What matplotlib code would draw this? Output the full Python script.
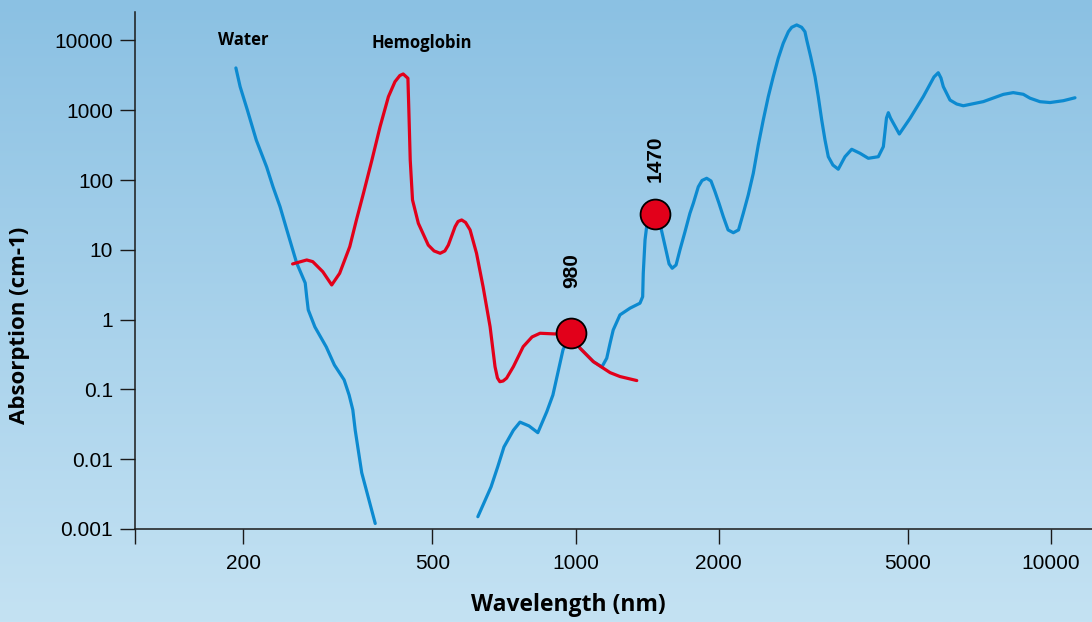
import numpy as np
import matplotlib
matplotlib.use('Agg')
import matplotlib.pyplot as plt
from matplotlib.colors import LinearSegmentedColormap
from matplotlib.ticker import NullLocator

# water absorption, UV side (wavelength nm, absorption cm-1)
water_uv_nm = [193, 197, 204, 213, 224, 231, 239, 247, 259, 270, 272, 274, 283, 299,
               311, 326, 334, 340, 344, 355, 379]
water_uv_abs = [4040, 2180, 1010, 375, 154, 80, 41.6, 19.3, 6.5, 3.35, 2.1, 1.38, 0.785,
                0.406, 0.224, 0.137, 0.083, 0.051, 0.026, 0.0064, 0.0012]

# water absorption, visible / IR side
water_ir_nm = [623, 664, 686, 707, 740, 764, 798, 833, 870, 896, 941, 980, 1022, 1090,
               1136, 1163, 1182, 1200, 1240, 1302, 1366, 1384, 1388, 1400, 1411, 1470,
               1510, 1555, 1573, 1597, 1627, 1658, 1699, 1740, 1769, 1812, 1845, 1887,
               1927, 1965, 2003, 2045, 2093, 2147, 2202, 2253, 2308, 2365, 2423, 2482,
               2543, 2605, 2669, 2734, 2803, 2849, 2918, 2989, 3037, 3063, 3123, 3189,
               3240, 3294, 3347, 3401, 3478, 3569, 3687, 3809, 3965, 4128, 4333, 4440,
               4508, 4549, 4596, 4797, 5053, 5388, 5674, 5793, 5869, 5936, 6132, 6333,
               6539, 7206, 7941, 8329, 8745, 9033, 9482, 9952, 10614, 11232]
water_ir_abs = [0.0015, 0.0040, 0.0078, 0.015, 0.026, 0.034, 0.030, 0.024, 0.048,
                0.083, 0.37, 0.64, 0.39, 0.25, 0.21, 0.28, 0.46, 0.71, 1.17, 1.46, 1.72,
                2.13, 4.6, 13.9, 21.5, 32.7, 21.5, 8.9, 6.28, 5.45, 6.07, 10.0, 18.2,
                33.4, 46.5, 80, 98.6, 106, 97, 68, 46.5, 30, 19.3, 17.6, 19.3, 33.4,
                61.1, 125, 318, 726, 1566, 3030, 5560, 9120, 13360, 15450, 16700, 15450,
                13360, 10200, 5860, 3030, 1566, 726, 375, 216, 164, 143, 216, 276, 242,
                205, 216, 301, 775, 923, 775, 457, 767, 1570, 3000, 3450, 2900, 2180,
                1400, 1230, 1160, 1330, 1690, 1790, 1694, 1490, 1327, 1290, 1371, 1510]

# hemoglobin absorption
hb_nm = [254, 272, 280, 294, 307, 319, 335, 346, 358, 373, 388, 404, 417, 427, 434,
         444, 446, 449, 454, 467, 490, 504, 519, 531, 540, 558, 566, 576, 587, 600,
         619, 639, 661, 677, 685, 693, 704, 716, 740, 776, 810, 842, 905, 980, 1022,
         1090, 1182, 1240, 1345]
hb_abs = [6.28, 7.16, 6.78, 4.86, 3.14, 4.61, 11.1, 26.8, 64.7, 194, 582, 1566, 2565,
          3148, 3311, 2871, 1009, 194, 51.9, 24.0, 11.7, 9.64, 8.93, 9.64, 11.7, 21.5,
          25.5, 26.8, 24.7, 19.3, 8.93, 2.96, 0.793, 0.212, 0.146, 0.129, 0.132, 0.145,
          0.212, 0.410, 0.565, 0.638, 0.624, 0.644, 0.389, 0.250, 0.174, 0.153, 0.134]

# laser wavelengths marked on the chart
laser_nm = [980, 1470]
laser_abs = [0.644, 32.7]
laser_labels = ['980', '1470']

x_ticks = [200, 500, 1000, 2000, 5000, 10000]
y_ticks = [0.001, 0.01, 0.1, 1, 10, 100, 1000, 10000]
y_tick_labels = ['0.001', '0.01', '0.1', '1', '10', '100', '1000', '10000']

BLUE = '#0c8ad0'
RED = '#e2001a'
INK = '#1a1a1a'
TICK_FONT = 'Liberation Sans'
BOLD_FONT = 'Open Sans'

fig = plt.figure(figsize=(10.92, 6.22), dpi=100)

# background gradient
bg = fig.add_axes([0, 0, 1, 1], zorder=-10)
grad = np.linspace(0, 1, 256).reshape(-1, 1)
cmap = LinearSegmentedColormap.from_list('bg', ['#8bc1e3', '#c4e2f3'])
bg.imshow(grad, aspect='auto', cmap=cmap, extent=[0, 1, 0, 1], origin='upper')
bg.axis('off')

ax = fig.add_axes([135 / 1092, 93 / 622, 957 / 1092, 517 / 622])
ax.patch.set_alpha(0)
ax.set_xscale('log')
ax.set_yscale('log')
x_left, x_right = 118.4, 12197
ax.set_xlim(x_left, x_right)
ax.set_ylim(0.001, 25590)

line_kw = dict(lw=2.3, solid_joinstyle='round', solid_capstyle='round')
ax.plot(water_uv_nm, water_uv_abs, color=BLUE, zorder=2, **line_kw)
ax.plot(water_ir_nm, water_ir_abs, color=BLUE, zorder=2, **line_kw)
ax.plot(hb_nm, hb_abs, color=RED, zorder=3, **line_kw)
ax.plot(laser_nm, laser_abs, 'o', ms=21.5, mfc=RED, mec='black', mew=1.3,
        ls='none', zorder=4)

for nm, a, lab, off in zip(laser_nm, laser_abs, laser_labels, [45, 40]):
    ax.annotate(lab, (nm, a), xytext=(0, off), textcoords='offset points',
                rotation=90, ha='center', va='center', fontsize=15,
                fontweight='bold', family=TICK_FONT, color='black')

ax.text(200, 10160, 'Water', ha='center', va='center', fontsize=12,
        fontweight='bold', family=BOLD_FONT)
ax.text(475, 9200, 'Hemoglobin', ha='center', va='center', fontsize=12,
        fontweight='bold', family=BOLD_FONT)

# ticks
ax.xaxis.set_minor_locator(NullLocator())
ax.yaxis.set_minor_locator(NullLocator())
ax.set_xticks([x_left] + x_ticks)
ax.set_xticklabels([''] + [str(t) for t in x_ticks])
ax.set_yticks(y_ticks)
ax.set_yticklabels(y_tick_labels)
ax.tick_params(axis='both', direction='out', length=10.8, width=1.0, color=INK,
               labelsize=15, labelcolor='black')
ax.tick_params(axis='x', pad=7)
ax.tick_params(axis='y', pad=5)
for lab in ax.get_xticklabels() + ax.get_yticklabels():
    lab.set_family(TICK_FONT)

for side in ['top', 'right']:
    ax.spines[side].set_visible(False)
for side in ['left', 'bottom']:
    ax.spines[side].set_linewidth(1.1)
    ax.spines[side].set_color(INK)

fig.text(568 / 1092, 1 - 605 / 622, 'Wavelength (nm)', ha='center', va='center',
         fontsize=16.5, fontweight='bold', family=BOLD_FONT)
fig.text(20 / 1092, 1 - 325 / 622, 'Absorption (cm-1)', ha='center', va='center',
         rotation=90, fontsize=16, fontweight='bold', family=BOLD_FONT)

fig.savefig('out.png', dpi=100)
